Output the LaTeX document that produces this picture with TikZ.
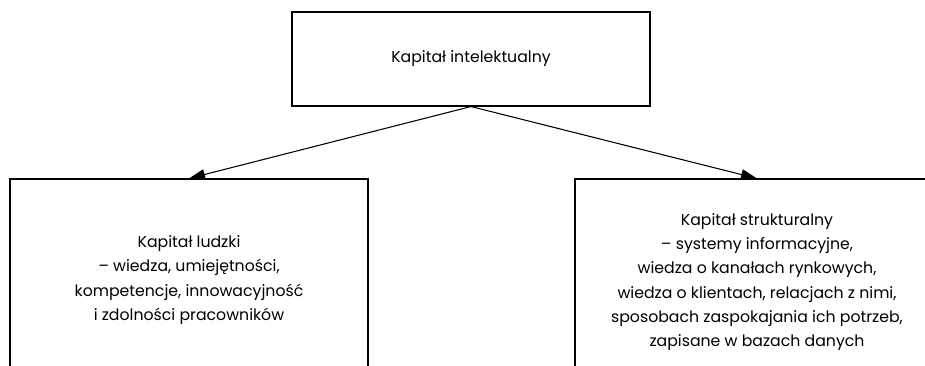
\documentclass[tikz,border=0pt]{standalone}
\usepackage{fontspec}
\setmainfont{Poppins}
\usepackage{tikz}
\usetikzlibrary{arrows.meta}

\begin{document}
\begin{tikzpicture}[x=0.75pt, y=-0.75pt, line width=0.8pt, font=\fontsize{11.8}{18.2}\selectfont]
            \useasboundingbox (0,0) rectangle (925,365);
            \clip (0,0) rectangle (925,365);
            % Nodes
            \node[rectangle, draw, minimum width=268.5pt, minimum height=70.5pt] (n1) at (471,59) {\raisebox{-2pt}{Kapitał intelektualny}};
            \node[rectangle, draw, align=center, minimum width=268.5pt, minimum height=151.5pt] (n2) at (189,280) {Kapitał ludzki\\ – wiedza, umiejętności,\\ kompetencje, innowacyjność\\ i zdolności pracowników};
            \node[rectangle, draw, align=center, minimum width=273pt, minimum height=154.5pt] (n3) at (757,282) {Kapitał strukturalny\\ – systemy informacyjne,\\ wiedza o kanałach rynkowych,\\ wiedza o klientach, relacjach z nimi,\\ sposobach zaspokajania ich potrzeb,\\ zapisane w bazach danych};

            % Edges
            \draw[-{Triangle[length=12pt, width=8pt]}] (n1.south) -- (n2.north);
            \draw[-{Triangle[length=12pt, width=8pt]}] (n1.south) -- (n3.north);
        \end{tikzpicture}
\end{document}
